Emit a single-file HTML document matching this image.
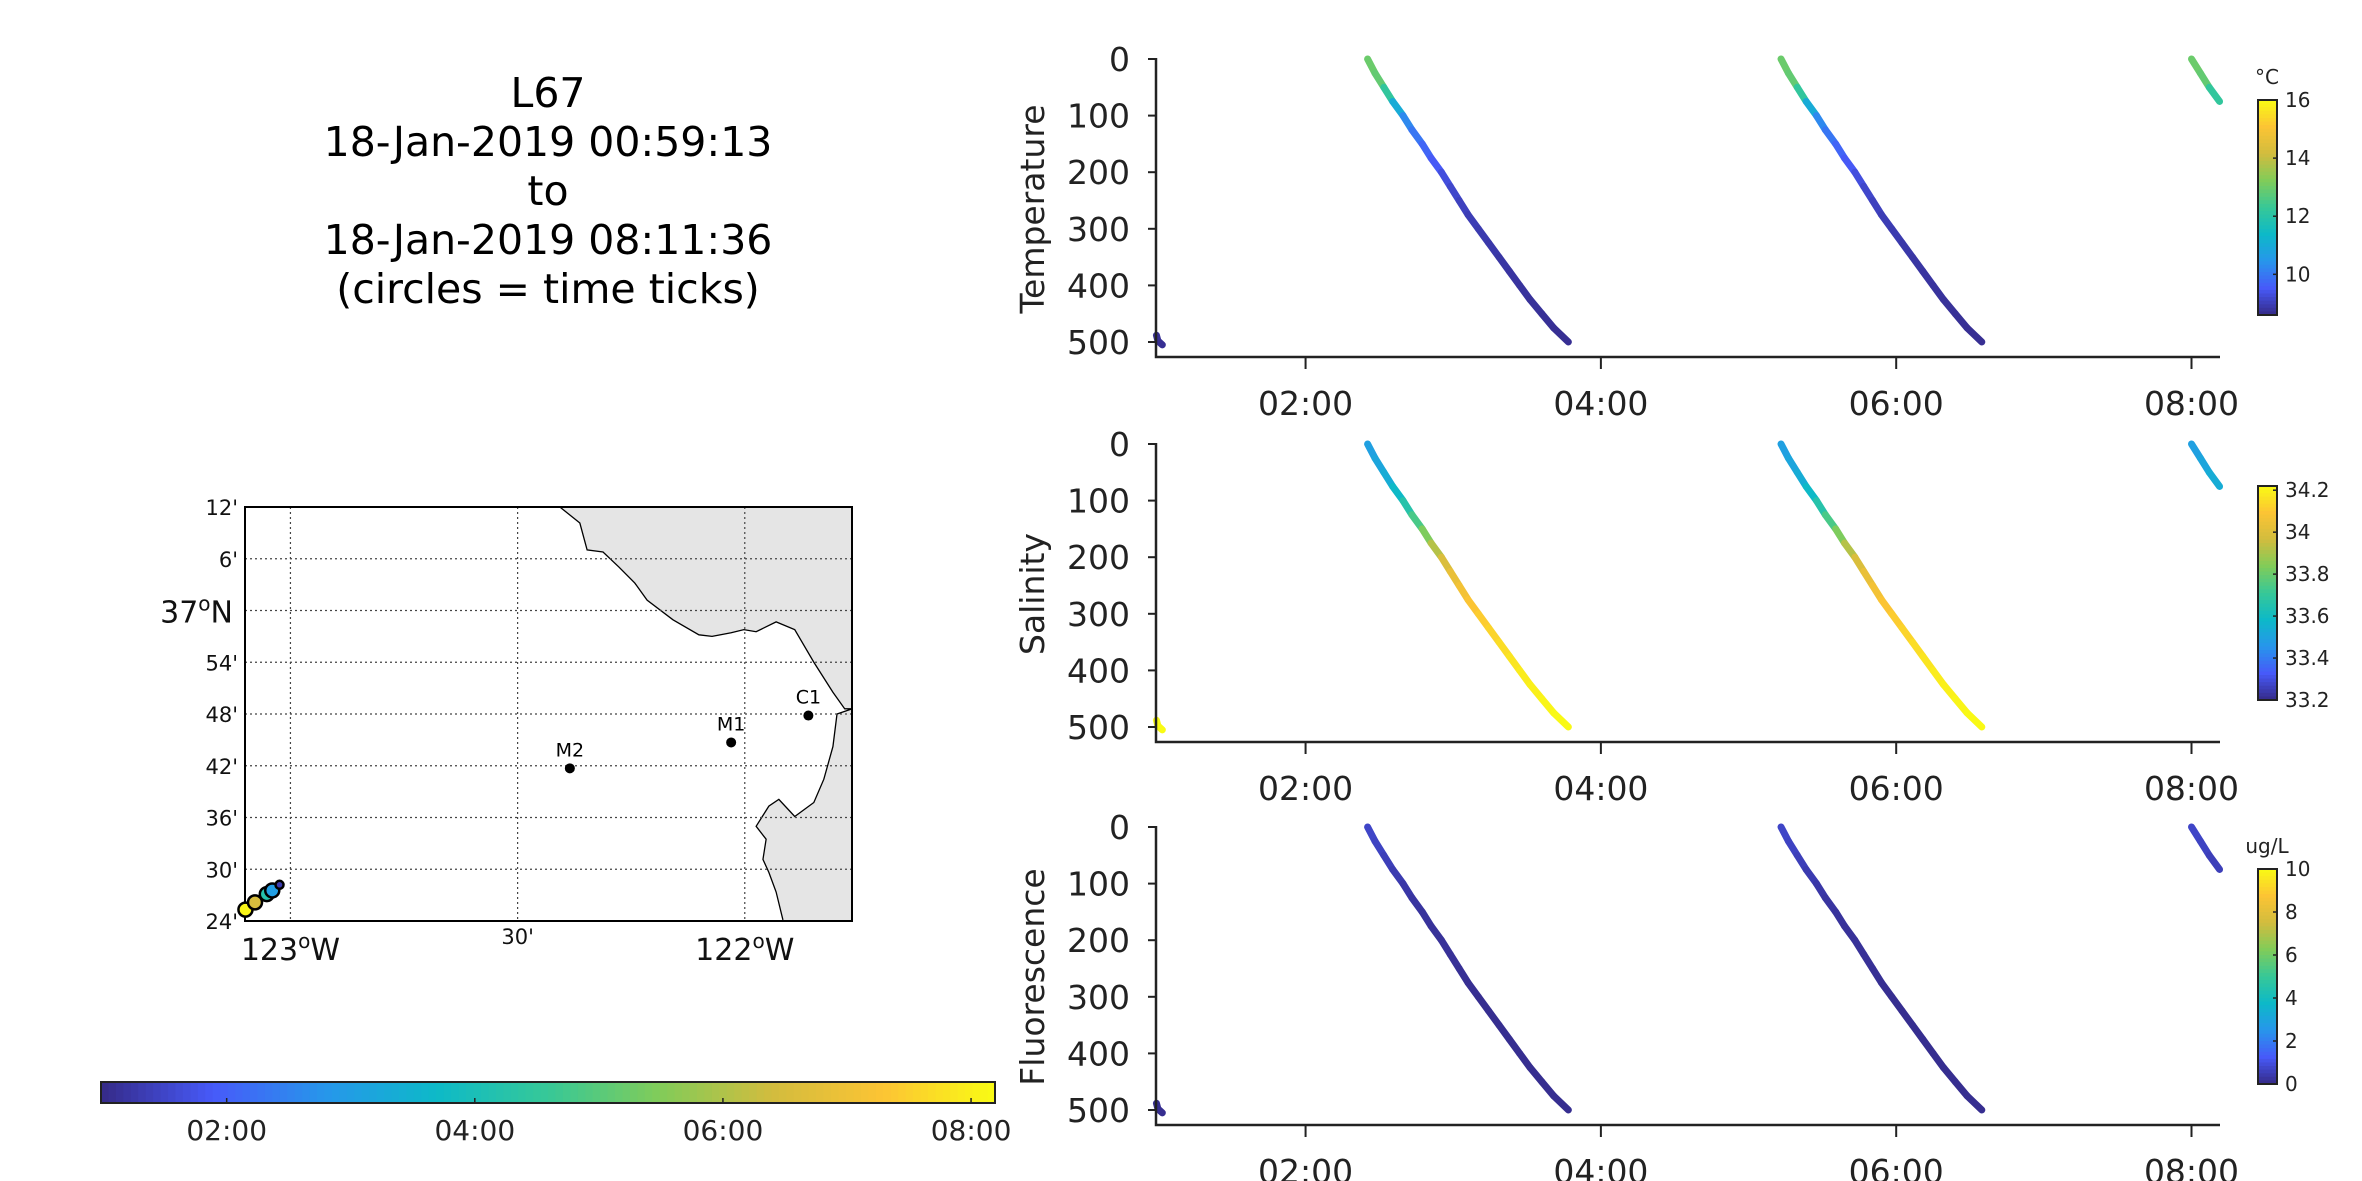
<!DOCTYPE html>
<html><head><meta charset="utf-8">
<style>
html,body{margin:0;padding:0;background:#fff;}
svg{display:block;font-family:"Liberation Sans","DejaVu Sans",sans-serif;}
</style></head>
<body>
<svg id="fig" width="2362" height="1181" viewBox="0 0 2362 1181" xmlns="http://www.w3.org/2000/svg">
<rect width="2362" height="1181" fill="#fff"/>
<g font-family="DejaVu Sans, sans-serif" font-size="41" text-anchor="middle" fill="#000">
<text x="548" y="107">L67</text>
<text x="548" y="156">18-Jan-2019 00:59:13</text>
<text x="548" y="205">to</text>
<text x="548" y="254">18-Jan-2019 08:11:36</text>
<text x="548" y="303">(circles = time ticks)</text>
</g>
<g id="map"></g>
<g id="timebar"></g>
<g id="panels"></g>
</svg>
<script>
// ---------- data ----------
const tStart = 0.987, tEnd = 8.193;           // hours
const depthTicks = [0,100,200,300,400,500];
const timeTicks = [2,4,6,8];
const timeTickLabels = ["02:00","04:00","06:00","08:00"];
const castDepths = [0,25,50,75,100,125,150,175,200,225,250,275,300,325,350,375,400,425,450,475,500];
const cast1Times = [2.42,2.47,2.53,2.59,2.66,2.72,2.79,2.85,2.92,2.98,3.04,3.10,3.17,3.24,3.31,3.38,3.45,3.52,3.60,3.68,3.78];
const cast2Times = [5.22,5.27,5.33,5.39,5.46,5.52,5.59,5.65,5.72,5.78,5.84,5.90,5.97,6.04,6.11,6.18,6.25,6.32,6.40,6.48,6.58];
const cast3Times = [8.00,8.06,8.12,8.19];
const cast0Times = [0.99,1.00,1.03];
const cast0Depths = [488,498,505];
const tempProfile = [13.0,12.9,12.8,11.6,10.4,10.1,9.8,9.6,9.4,9.2,9.1,9.0,8.95,8.9,8.85,8.8,8.8,8.75,8.75,8.7,8.7];
const salProfile  = [33.48,33.5,33.52,33.55,33.62,33.7,33.78,33.88,33.96,34.02,34.05,34.08,34.1,34.12,34.14,34.16,34.18,34.19,34.2,34.21,34.22];
const fluorProfile= [0.7,0.7,0.6,0.5,0.4,0.3,0.25,0.2,0.2,0.2,0.15,0.15,0.1,0.1,0.1,0.1,0.1,0.1,0.1,0.1,0.1];
const cast0Temp = [8.7,8.7,8.7], cast0Sal = [34.22,34.22,34.22], cast0Fluor=[0.1,0.1,0.1];
const tempTicks=[10,12,14,16], salTicks=[33.2,33.4,33.6,33.8,34,34.2], fluorTicks=[0,2,4,6,8,10];
// map data
const stationNames=["M2","M1","C1"];
const stationLon=[-122.385,-122.030,-121.860];
const stationLat=[36.695,36.745,36.797];
const trackLon=[-123.099,-123.078,-123.052,-123.040,-123.024];
const trackLat=[36.422,36.436,36.452,36.459,36.470];
const trackTime=[8.1,6.5,4.2,3.0,1.3];
const coastLon=[-122.407,-122.363,-122.347,-122.312,-122.277,-122.242,-122.215,-122.158,-122.101,-122.072,-122.030,-122.002,-121.975,-121.931,-121.890,-121.848,-121.806,-121.780,-121.764,-121.797,-121.806,-121.826,-121.848,-121.890,-121.925,-121.947,-121.975,-121.953,-121.960,-121.947,-121.931,-121.916];
const coastLat=[37.200,37.169,37.117,37.113,37.084,37.053,37.020,36.982,36.953,36.950,36.957,36.963,36.959,36.978,36.963,36.900,36.842,36.810,36.810,36.800,36.737,36.674,36.629,36.602,36.635,36.622,36.583,36.558,36.519,36.494,36.456,36.402];

// ---------- helpers ----------
const NS="http://www.w3.org/2000/svg";
function mk(tag,attrs,parent){const e=document.createElementNS(NS,tag);for(const k in attrs)e.setAttribute(k,attrs[k]);if(parent)parent.appendChild(e);return e;}
const P=[[0,[53,42,135]],[0.125,[71,90,249]],[0.25,[39,150,235]],[0.375,[13,185,200]],[0.5,[55,200,151]],[0.625,[129,204,89]],[0.75,[210,188,62]],[0.875,[252,196,52]],[1,[249,251,20]]];
function parula(f){f=Math.max(0,Math.min(1,f));for(let i=1;i<P.length;i++){if(f<=P[i][0]){const a=P[i-1],b=P[i];const u=(f-a[0])/(b[0]-a[0]);const c=a[1].map((v,j)=>Math.round(v+(b[1][j]-v)*u));return `rgb(${c[0]},${c[1]},${c[2]})`;}}return "rgb(249,251,20)";}

// ---------- profile panels ----------
const X0=1156,X1=2220;
function xs(t){return X0+(t-tStart)/(tEnd-tStart)*(X1-X0);}
const panels=[
 {name:"temperature",label:"Temperature",top:59,vals:tempProfile,v0:cast0Temp,min:8.6,max:16,ticks:tempTicks,unit:"°C",cbTop:100,cbBot:315},
 {name:"salinity",label:"Salinity",top:444,vals:salProfile,v0:cast0Sal,min:33.2,max:34.22,ticks:salTicks,unit:"",cbTop:486,cbBot:700},
 {name:"fluorescence",label:"Fluorescence",top:827,vals:fluorProfile,v0:cast0Fluor,min:0,max:10,ticks:fluorTicks,unit:"ug/L",cbTop:869,cbBot:1084}
];
const pg=document.getElementById('panels');
panels.forEach(p=>{
  const g=mk('g',{},pg);
  
  
  const ys=d=>p.top+d/500*283;
  const axB=p.top+298;
  const casts=[[cast0Times,cast0Depths,p.v0],[cast1Times,castDepths,p.vals],[cast2Times,castDepths,p.vals],[cast3Times,castDepths.slice(0,4),p.vals.slice(0,4)]];
  casts.forEach((c,ci)=>{
    const cg=mk('g',{},g);
    
    
    for(let i=0;i<c[0].length-1;i++){
      const v=(c[2][i]+c[2][i+1])/2;
      const ln=mk('line',{x1:xs(c[0][i]),y1:ys(c[1][i]),x2:xs(c[0][i+1]),y2:ys(c[1][i+1]),stroke:parula((v-p.min)/(p.max-p.min)),'stroke-width':7,'stroke-linecap':'round'},cg);
      
      
    }
  });
  const ax=mk('path',{d:`M${X0},${p.top-1}V${axB}H${X1}`,fill:'none',stroke:'#222','stroke-width':2.5},g);
  
  
  depthTicks.forEach(d=>{
    mk('line',{x1:X0-8,x2:X0,y1:ys(d),y2:ys(d),stroke:'#222','stroke-width':2},g);
    const t=mk('text',{x:X0-26,y:ys(d)+12,'font-size':33,'text-anchor':'end',fill:'#222','font-family':'DejaVu Sans, sans-serif'},g);
    t.textContent=d;
    
    
  });
  timeTicks.forEach((h,i)=>{
    mk('line',{x1:xs(h),x2:xs(h),y1:axB,y2:axB+12,stroke:'#222','stroke-width':2},g);
    const t=mk('text',{x:xs(h),y:axB+58,'font-size':33,'text-anchor':'middle',fill:'#222','font-family':'DejaVu Sans, sans-serif'},g);
    t.textContent=timeTickLabels[i];
    
    
  });
  const yl=mk('text',{x:0,y:0,transform:`translate(1044,${p.top+150}) rotate(-90)`,'font-size':33,'text-anchor':'middle',fill:'#222','font-family':'DejaVu Sans, sans-serif'},g);
  yl.textContent=p.label;
  
  
  const cb=mk('g',{},g);
  
  
  const n=60,h=(p.cbBot-p.cbTop)/n;
  for(let i=0;i<n;i++)mk('rect',{x:2258,y:p.cbTop+i*h,width:19,height:h+0.6,fill:parula(1-(i+0.5)/n)},cb);
  mk('rect',{x:2258,y:p.cbTop,width:19,height:p.cbBot-p.cbTop,fill:'none',stroke:'#222','stroke-width':2},cb);
  p.ticks.forEach(v=>{
    const y=p.cbBot-(v-p.min)/(p.max-p.min)*(p.cbBot-p.cbTop);
    mk('line',{x1:2273,x2:2277,y1:y,y2:y,stroke:'#222','stroke-width':1.5},cb);
    const t=mk('text',{x:2285,y:y+7,'font-size':20,fill:'#222','font-family':'DejaVu Sans, sans-serif'},cb);
    t.textContent=v;
    
    
  });
  if(p.unit){const u=mk('text',{x:2267,y:p.cbTop-16,'font-size':20,'text-anchor':'middle',fill:'#222','font-family':'DejaVu Sans, sans-serif'},cb);u.textContent=p.unit;
    
    }
});

// ---------- map ----------
const MX0=245,MX1=852,MY0=507,MY1=921;
const lonMin=-123.1,lonMax=-121.764,latMin=36.4,latMax=37.2;
const mx=l=>MX0+(l-lonMin)/(lonMax-lonMin)*(MX1-MX0);
const my=l=>MY1-(l-latMin)/(latMax-latMin)*(MY1-MY0);
const mg=document.getElementById('map');
let d=`M${mx(coastLon[0])},${my(coastLat[0])}`;
for(let i=1;i<coastLon.length;i++)d+=`L${mx(coastLon[i])},${my(coastLat[i])}`;
const land=mk('path',{d:d+`L${MX1},${MY1}L${MX1},${MY0}Z`,fill:'#e5e5e5',stroke:'none'},mg);


const coast=mk('path',{d:d,fill:'none',stroke:'#000','stroke-width':1.3},mg);


const latGrid=[37.2,37.1,37.0,36.9,36.8,36.7,36.6,36.5,36.4];
const latLabels=["12'","6'","37°N","54'","48'","42'","36'","30'","24'"];
latGrid.forEach((l,i)=>{
  if(i>0&&i<latGrid.length-1)mk('line',{x1:MX0,x2:MX1,y1:my(l),y2:my(l),stroke:'#444','stroke-width':1.2,'stroke-dasharray':'2,3'},mg);
  const big=latLabels[i]==="37°N";
  const t=mk('text',{x:big?233:238,y:my(l)+(big?12:8),'font-size':big?30:21,'text-anchor':'end',fill:'#111','font-family':'DejaVu Sans, sans-serif'},mg);
  if(big){t.innerHTML='37<tspan dy="-12" font-size="20">o</tspan><tspan dy="12">N</tspan>';}else t.textContent=latLabels[i];
  
  
});
const lonGrid=[-123,-122.5,-122];
lonGrid.forEach((l,i)=>{
  mk('line',{x1:mx(l),x2:mx(l),y1:MY0,y2:MY1,stroke:'#444','stroke-width':1.2,'stroke-dasharray':'2,3'},mg);
  const t=mk('text',{x:mx(l),y:i===1?944:960,'font-size':i===1?21:30,'text-anchor':'middle',fill:'#111','font-family':'DejaVu Sans, sans-serif'},mg);
  if(i===1)t.textContent="30'";else t.innerHTML=(i===0?'123':'122')+'<tspan dy="-12" font-size="20">o</tspan><tspan dy="12">W</tspan>';
  
  
});
const fr=mk('rect',{x:MX0,y:MY0,width:MX1-MX0,height:MY1-MY0,fill:'none',stroke:'#000','stroke-width':2},mg);


stationNames.forEach((s,i)=>{
  const c=mk('circle',{cx:mx(stationLon[i]),cy:my(stationLat[i]),r:5,fill:'#000'},mg);
  
  
  const t=mk('text',{x:mx(stationLon[i]),y:my(stationLat[i])-12,'font-size':19,'text-anchor':'middle',fill:'#000','font-family':'DejaVu Sans, sans-serif'},mg);
  t.textContent=s;
  
  
});
trackLon.forEach((l,i)=>{
  const c=mk('circle',{cx:mx(l),cy:my(trackLat[i]),r:i===trackLon.length-1?4:7,fill:parula((trackTime[i]-tStart)/(tEnd-tStart)),stroke:'#000','stroke-width':2.5},mg);
  
  
});

// ---------- time colorbar ----------
const tg=document.getElementById('timebar');
const BX0=101,BX1=995,BY0=1082,BY1=1103;
const nb=120;
for(let i=0;i<nb;i++)mk('rect',{x:BX0+i*(BX1-BX0)/nb,y:BY0,width:(BX1-BX0)/nb+0.6,height:BY1-BY0,fill:parula((i+0.5)/nb)},tg);
mk('rect',{x:BX0,y:BY0,width:BX1-BX0,height:BY1-BY0,fill:'none',stroke:'#222','stroke-width':2},tg);
timeTicks.forEach((h,i)=>{
  const x=BX0+(h-tStart)/(tEnd-tStart)*(BX1-BX0);
  mk('line',{x1:x,x2:x,y1:BY1-5,y2:BY1,stroke:'#222','stroke-width':1.5},tg);
  const t=mk('text',{x:x,y:1140,'font-size':28,'text-anchor':'middle',fill:'#222','font-family':'DejaVu Sans, sans-serif'},tg);
  t.textContent=timeTickLabels[i];
  
  
});
</script>
</body></html>
